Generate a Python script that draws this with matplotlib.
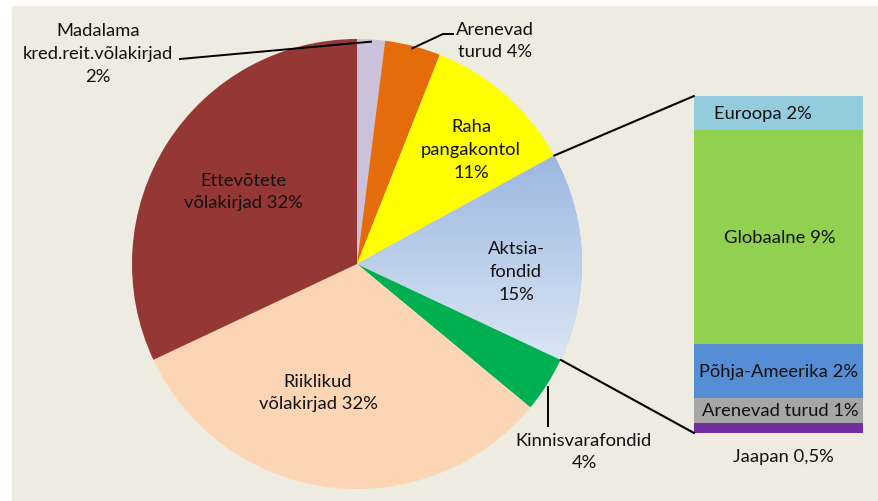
import numpy as np
import matplotlib
matplotlib.use("Agg")
import matplotlib.pyplot as plt
from matplotlib.patches import Rectangle, ConnectionPatch
from matplotlib.colors import LinearSegmentedColormap

# fund asset allocation, % of fund (pie, clockwise from 12 o'clock)
pie_labels = ["Madalama\nkred.reit.võlakirjad\n2%", "Arenevad\nturud 4%",
              "Raha\npangakontol\n11%", "Aktsia-\nfondid\n15%",
              "Kinnisvarafondid\n4%", "Riiklikud\nvõlakirjad 32%",
              "Ettevõtete\nvõlakirjad 32%"]
pie_values = [2, 4, 11, 15, 4, 32, 32]
pie_colors = ["#CCC1DA", "#E46C0A", "#FFFF00", "#A7BFE4", "#00B050",
              "#FCD5B5", "#953735"]
split_idx = 3   # equity funds slice is broken out into the bar

# breakdown of the equity funds slice, top to bottom
bar_labels = ["Euroopa 2%", "Globaalne 9%", "Põhja-Ameerika 2%",
              "Arenevad turud 1%", "Jaapan 0,5%"]
bar_values = [1.5, 9.5, 2.4, 1.1, 0.45]
bar_colors = ["#93CDDD", "#92D050", "#558ED5", "#A6A6A6", "#7030A0"]

BG = "#EEEBE0"
W, H = 879, 502
plt.rcParams['font.family'] = ['Lato', 'DejaVu Sans']
FS = 13.2

fig = plt.figure(figsize=(W / 100, H / 100), dpi=100, facecolor="white")
fig.patches.append(Rectangle((12 / W, 0), 1 - 12 / W, 495 / H,
                             transform=fig.transFigure, color=BG, zorder=-5))

ax = fig.add_axes([0, 0, 1, 1])
ax.patch.set_visible(False)
cx, cy, r = 357, H - 265, 225
wedges, _ = ax.pie(pie_values, colors=pie_colors, startangle=90,
                   counterclock=False, center=(cx, cy), radius=r,
                   wedgeprops=dict(linewidth=0))

# gradient fill on the equity slice
grad = np.linspace(0, 1, 256).reshape(-1, 1)
cmap = LinearSegmentedColormap.from_list("aks", ["#DDE7F4", "#9AB6E0"])
im = ax.imshow(grad, extent=(cx, cx + r, cy - r * 0.45, cy + r * 0.5),
               origin="lower", cmap=cmap, aspect="auto",
               zorder=wedges[split_idx].get_zorder() + 0.1)
im.set_clip_path(wedges[split_idx])

ax.set_xlim(0, W)
ax.set_ylim(0, H)
ax.set_aspect("equal")
ax.axis("off")


def edge_point(frac, rad=r):
    ang = np.deg2rad(90 - 360 * frac)
    return cx + rad * np.cos(ang), cy + rad * np.sin(ang)


cum = np.concatenate([[0], np.cumsum(pie_values)]) / sum(pie_values)
mids = (cum[:-1] + cum[1:]) / 2

# pie labels (pixel-like positions, y measured from top)
label_pos = [(98, 54), (495, 41), (471, 150), (516, 272), (584, 452),
             (318, 393), (243, 192)]
for lab, (x, y) in zip(pie_labels, label_pos):
    ax.text(x, H - y, lab, ha="center", va="center", fontsize=FS,
            linespacing=1.5, color="#111111")

# leader lines
px, py = edge_point(mids[0], r * 0.99)
ax.plot([180, px], [H - 60, py], color="black", lw=1.4)
px, py = edge_point(mids[1], r * 0.99)
ax.plot([px, 443, 453], [py, H - 35, H - 35], color="black", lw=1.4)
px, py = edge_point(mids[4], r * 1.02)
ax.plot([px - 3, px - 3], [py, H - 427], color="black", lw=1.4)

# stacked bar for the equity breakdown
bax = fig.add_axes([694 / W, (H - 434) / H, 169 / W, 337 / H])
total = sum(bar_values)
bottom = total
for lab, val, col in zip(bar_labels, bar_values, bar_colors):
    bottom -= val
    bax.bar(0, val, bottom=bottom, width=1, color=col, linewidth=0)
bax.set_xlim(-0.5, 0.5)
bax.set_ylim(0, total)
bax.axis("off")

bar_text_x = [-0.09, 0.01, 0.0, 0.01, 0.03]
bottom = total
for lab, val, tx in zip(bar_labels, bar_values, bar_text_x):
    bottom -= val
    ty = bottom + val / 2
    if val < 1:
        ty = -1.0
    bax.text(tx, ty, lab, ha="center", va="center", fontsize=FS,
             color="#111111", clip_on=False)

# connectors from the equity slice to the bar
for frac, yb in [(cum[split_idx], total), (cum[split_idx + 1], 0)]:
    p = edge_point(frac)
    con = ConnectionPatch(xyA=p, coordsA=ax.transData, xyB=(-0.5, yb),
                          coordsB=bax.transData, color="black", lw=1.5)
    fig.add_artist(con)

fig.savefig("out.png", dpi=100, facecolor="white")
